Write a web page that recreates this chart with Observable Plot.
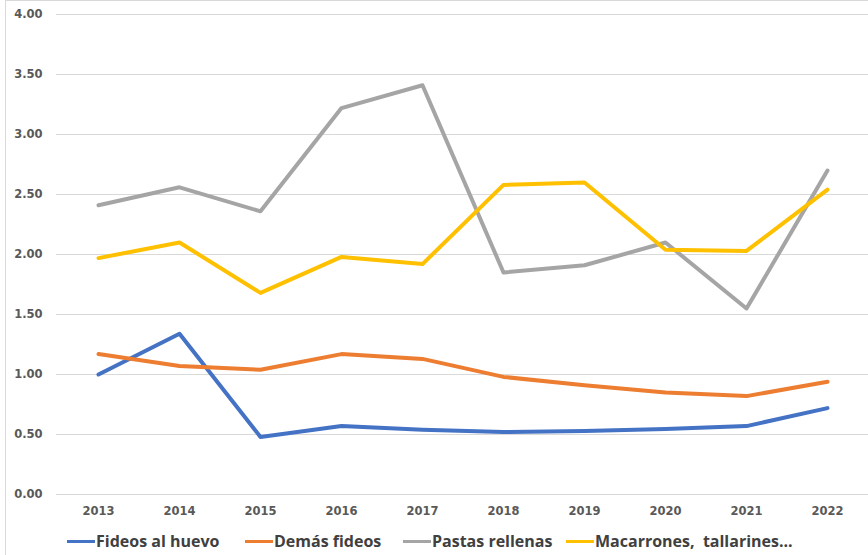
<!DOCTYPE html>
<html><head><meta charset="utf-8">
<script src="https://cdn.jsdelivr.net/npm/d3@7"></script>
<script src="https://cdn.jsdelivr.net/npm/@observablehq/plot@0.6"></script>
<style>
body{margin:0;background:#fff;font-family:"DejaVu Sans",sans-serif;}
#wrap{position:relative;width:868px;height:555px;overflow:hidden;}
#frame{position:absolute;left:5px;top:0;width:900px;height:600px;border:1px solid #d9d9d9;box-sizing:border-box;}
#chart{position:absolute;left:0;top:0;}
#legend{position:absolute;left:0;top:527px;width:868px;height:28px;}
.item{position:absolute;top:0;height:28px;display:flex;align-items:center;font-family:"Open Sans",sans-serif;font-weight:bold;font-size:16px;color:#404040;white-space:pre;}
.sw{width:28px;height:3px;margin-right:1px;}
</style></head>
<body><div id="wrap"><div id="frame"></div><div id="chart"></div><div id="legend"></div></div>
<script>
const years = ["2013","2014","2015","2016","2017","2018","2019","2020","2021","2022"];
const seriesNames = ["Fideos al huevo","Demás fideos","Pastas rellenas","Macarrones,  tallarines..."];
const colors = ["#4472C4","#ED7D31","#A5A5A5","#FFC000"];
const fideosHuevo = [1.00,1.34,0.48,0.57,0.54,0.52,0.53,0.545,0.57,0.72];
const demasFideos = [1.17,1.07,1.04,1.17,1.13,0.98,0.91,0.85,0.82,0.94];
const pastasRellenas = [2.41,2.56,2.36,3.22,3.41,1.85,1.91,2.10,1.55,2.70];
const macarrones = [1.97,2.10,1.68,1.98,1.92,2.58,2.60,2.04,2.03,2.54];
const yTicks = [0,0.5,1,1.5,2,2.5,3,3.5,4];
const legendX = [67,245,403,566];

const allSeries = [fideosHuevo,demasFideos,pastasRellenas,macarrones];
const data = [];
allSeries.forEach((vals,i)=>vals.forEach((v,j)=>data.push({serie:seriesNames[i],year:years[j],value:v})));

const plot = Plot.plot({
  width:868,height:527,
  marginLeft:56,marginRight:0,marginTop:14,marginBottom:33,
  style:{fontFamily:"DejaVu Sans",fontWeight:"bold",fontSize:"11.5px",color:"#595959",background:"transparent"},
  x:{type:"point",domain:years,padding:0.5,label:null,tickSize:0,tickPadding:12},
  y:{domain:[0,4],ticks:yTicks,tickFormat:d=>d.toFixed(2),label:null,tickSize:0,tickPadding:14},
  color:{domain:seriesNames,range:colors},
  marks:[
    Plot.gridY(yTicks,{stroke:"#d9d9d9",strokeOpacity:1,strokeWidth:1}),
    Plot.line(data,{x:"year",y:"value",z:"serie",stroke:"serie",strokeWidth:4,strokeLinejoin:"round",strokeLinecap:"round"})
  ]
});
document.getElementById("chart").appendChild(plot);
const leg = document.getElementById("legend");
seriesNames.forEach((n,i)=>{
  const d=document.createElement("div");d.className="item";d.style.left=legendX[i]+"px";
  const s=document.createElement("div");s.className="sw";s.style.background=colors[i];
  d.appendChild(s);d.appendChild(document.createTextNode(n));leg.appendChild(d);
});
</script></body></html>
